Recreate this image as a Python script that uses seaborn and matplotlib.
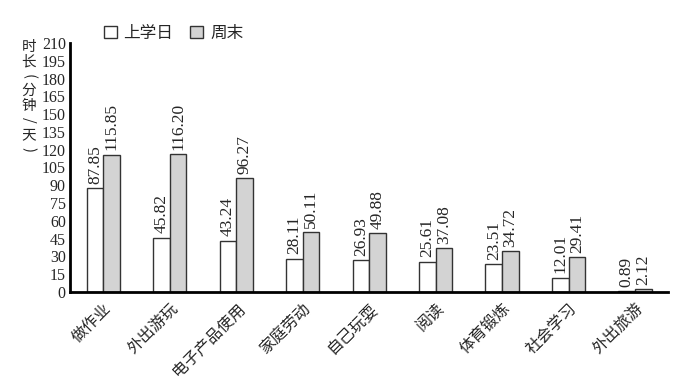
import pandas as pd
import seaborn as sns
import matplotlib.pyplot as plt
from matplotlib.ticker import MultipleLocator, FixedLocator

categories = ['做作业', '外出游玩', '电子产品使用', '家庭劳动', '自己玩耍', '阅读', '体育锻炼', '社会学习', '外出旅游']
school_day = [87.85, 45.82, 43.24, 28.11, 26.93, 25.61, 23.51, 12.01, 0.89]
weekend = [115.85, 116.20, 96.27, 50.11, 49.88, 37.08, 34.72, 29.41, 2.12]
series = ['上学日', '周末']

df = pd.DataFrame({
    'cat': categories * 2,
    'val': school_day + weekend,
    'grp': [series[0]] * len(categories) + [series[1]] * len(categories),
})

sns.set_style('white')
plt.rcParams['font.family'] = ['Liberation Serif', 'Noto Sans CJK SC']

fig = plt.figure(figsize=(6.73, 3.81), dpi=100)
ax = fig.add_axes([0.104, 0.234, 0.889, 0.653])

sns.barplot(data=df, x='cat', y='val', hue='grp', order=categories, hue_order=series,
            palette={'上学日': 'white', '周末': '#d3d3d3'}, width=0.5, gap=0,
            edgecolor='#333333', linewidth=1, ax=ax)

for cont in ax.containers:
    ax.bar_label(cont, fmt='%.2f', rotation=90, padding=3, fontsize=12.5)

ax.set_xlim(-0.5, len(categories) - 0.5)
ax.set_ylim(0, 210)
ax.yaxis.set_major_locator(MultipleLocator(15))
ax.set_xlabel('')
ax.set_ylabel('')

for s in ['top', 'right']:
    ax.spines[s].set_visible(False)
for s in ['left', 'bottom']:
    ax.spines[s].set_linewidth(2)
    ax.spines[s].set_color('black')

ax.tick_params(axis='y', direction='in', length=6, width=2, labelsize=11.5, pad=3)
ax.tick_params(axis='x', which='major', length=0, pad=6)
ax.xaxis.set_minor_locator(FixedLocator([i + 0.5 for i in range(len(categories) - 1)]))
ax.tick_params(axis='x', which='minor', direction='in', length=6, width=2)
ax.set_xticks(range(len(categories)))
ax.set_xticklabels(categories, rotation=45, ha='right', rotation_mode='anchor',
                   fontsize=11.5, family=['Noto Sans CJK SC'])

ax.legend(loc='upper left', bbox_to_anchor=(0.045, 1.1), ncol=2, frameon=False,
          prop={'family': 'Noto Sans CJK SC', 'size': 12}, handlelength=0.8,
          handleheight=0.8, columnspacing=1.0, handletextpad=0.4, borderaxespad=0)

# vertical y label, one character at a time
ylabel_chars = ['时', '长', '(', '分', '钟', '/', '天', ')']
for i, ch in enumerate(ylabel_chars):
    rot = 270 if ch in '()/' else 0
    fig.text(0.043, 0.877 - i * 0.0385, ch, ha='center', va='center', rotation=rot,
             fontsize=10.5, family=['Noto Sans CJK SC'])

fig.savefig('out.png', dpi=100)
